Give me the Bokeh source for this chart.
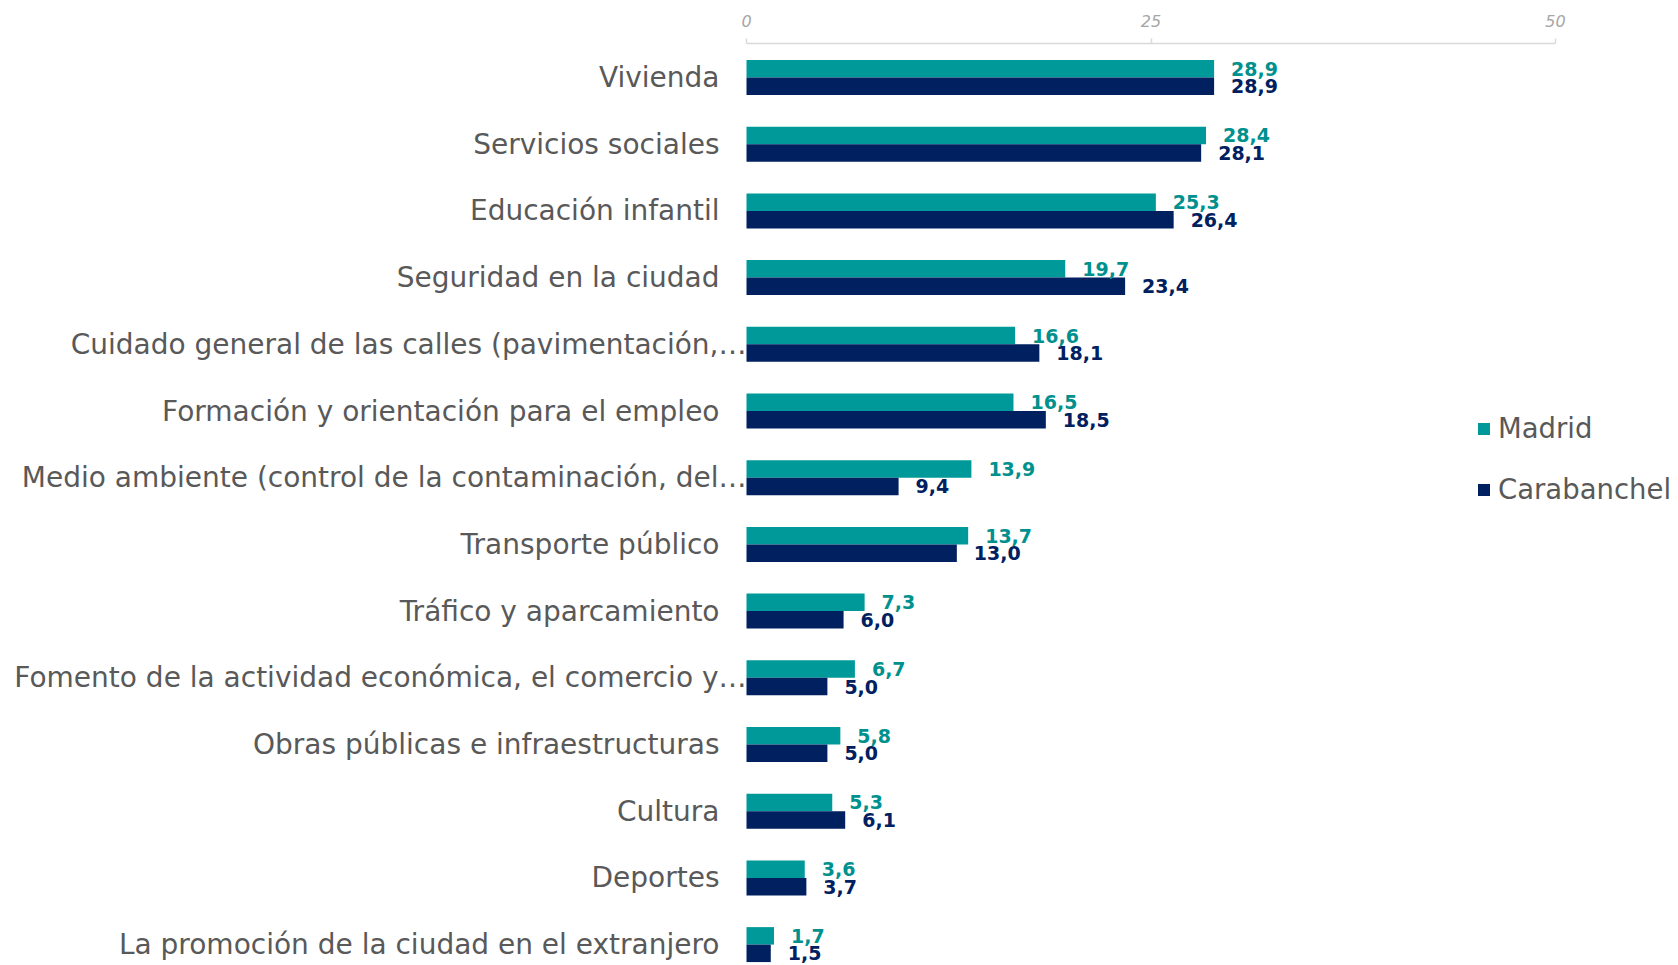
from bokeh.plotting import figure
from bokeh.models import (ColumnDataSource, Range1d, FixedTicker, LinearAxis,
                          Legend, LegendItem)
from bokeh.core.properties import value
from bokeh.transform import dodge
from bokeh.embed import file_html
from bokeh.resources import INLINE

categories = [
    "Vivienda",
    "Servicios sociales",
    "Educación infantil",
    "Seguridad en la ciudad",
    "Cuidado general de las calles (pavimentación,…",
    "Formación y orientación para el empleo",
    "Medio ambiente (control de la contaminación, del…",
    "Transporte público",
    "Tráfico y aparcamiento",
    "Fomento de la actividad económica, el comercio y…",
    "Obras públicas e infraestructuras",
    "Cultura",
    "Deportes",
    "La promoción de la ciudad en el extranjero",
]
madrid = [28.9, 28.4, 25.3, 19.7, 16.6, 16.5, 13.9, 13.7, 7.3, 6.7, 5.8, 5.3, 3.6, 1.7]
carabanchel = [28.9, 28.1, 26.4, 23.4, 18.1, 18.5, 9.4, 13.0, 6.0, 5.0, 5.0, 6.1, 3.7, 1.5]
series_names = ["Madrid", "Carabanchel"]
x_ticks = [0, 25, 50]

TEAL = "#009999"
TEAL_TXT = "#00918E"
NAVY = "#002060"
GRAY = "#595959"
FONT = "DejaVu Sans"

def fmt(v):
    return f"{v:.1f}".replace(".", ",")

idx = list(range(len(categories)))
src = ColumnDataSource(dict(
    idx=idx,
    cat=categories,
    madrid=madrid,
    carab=carabanchel,
    madrid_lbl=[fmt(v) for v in madrid],
    carab_lbl=[fmt(v) for v in carabanchel],
    cat_off=[0 if c.endswith("…") else -27 for c in categories],
))

W, H = 1670, 963
TOP = 43
X0_PX, X50_PX = 746, 1555          # pixel positions of 0 and 50 inside the figure
scale = (X50_PX - X0_PX) / 50.0
x_start = -X0_PX / scale
x_end = 50 + (W - X50_PX) / scale
row_px = 66.7
y_end = -34 / row_px
y_start = y_end + (H - TOP) / row_px

p = figure(width=W, height=H, output_backend="svg", toolbar_location=None,
           x_range=Range1d(x_start, x_end), y_range=Range1d(y_start, y_end),
           x_axis_location=None, y_axis_location=None,
           min_border_left=0, min_border_right=0, min_border_top=TOP,
           min_border_bottom=0)
p.outline_line_color = None
p.xgrid.visible = False
p.ygrid.visible = False

ax = LinearAxis(ticker=FixedTicker(ticks=x_ticks), bounds=(0, 50))
ax.axis_line_color = "#D9D9D9"
ax.axis_line_width = 1.5
ax.major_tick_line_color = "#D9D9D9"
ax.major_tick_line_width = 1.5
ax.major_tick_in = 0
ax.major_tick_out = 5
ax.minor_tick_line_color = None
ax.major_label_standoff = 12
ax.major_label_text_font = FONT
ax.major_label_text_font_style = "italic"
ax.major_label_text_font_size = "16px"
ax.major_label_text_color = "#A6A6A6"
p.add_layout(ax, "above")

h = 0.262
r1 = p.hbar(y=dodge("idx", -h / 2), left=0, right="madrid", height=h, source=src,
            fill_color=TEAL, line_color=None)
r2 = p.hbar(y=dodge("idx", h / 2), left=0, right="carab", height=h, source=src,
            fill_color=NAVY, line_color=None)

p.text(x=0, y="idx", text="cat", x_offset="cat_off", source=src,
       text_align="right", text_baseline="middle",
       text_font=value(FONT), text_font_size="28px", text_color=GRAY)

p.text(x="madrid", y=dodge("idx", -h / 2), text="madrid_lbl", x_offset=17,
       source=src, text_align="left", text_baseline="middle",
       text_font=value(FONT), text_font_style="bold", text_font_size="19px",
       text_color=TEAL_TXT)
p.text(x="carab", y=dodge("idx", h / 2), text="carab_lbl", x_offset=17,
       source=src, text_align="left", text_baseline="middle",
       text_font=value(FONT), text_font_style="bold", text_font_size="19px",
       text_color=NAVY)

legend = Legend(items=[LegendItem(label=series_names[0], renderers=[r1]),
                       LegendItem(label=series_names[1], renderers=[r2])],
                location=(1476, 458))
legend.glyph_width = 15
legend.glyph_height = 15
legend.label_height = 26
legend.spacing = 29
legend.padding = 0
legend.margin = 0
legend.label_standoff = 7
legend.label_text_font = FONT
legend.label_text_font_size = "27.5px"
legend.label_text_color = GRAY
legend.border_line_color = None
legend.background_fill_alpha = 0
p.add_layout(legend)

open("out.html", "w").write(file_html(p, INLINE))
